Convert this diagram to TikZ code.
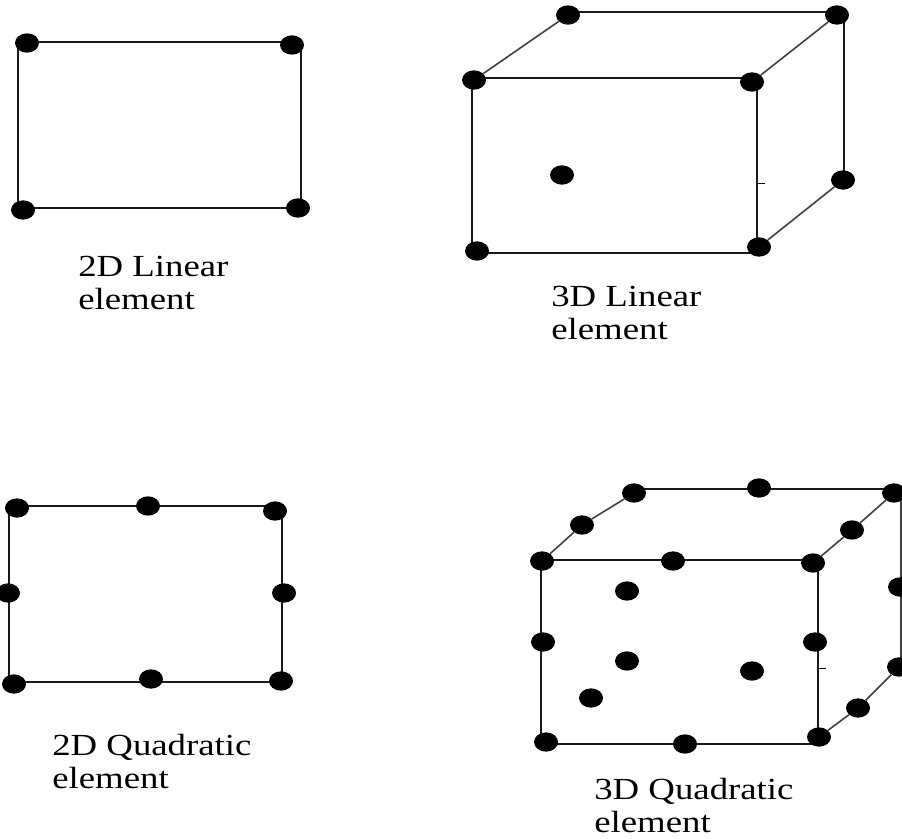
\documentclass[tikz,border=0pt]{standalone}
\usepackage{fontspec}
\setmainfont[FakeStretch=1.2]{Liberation Serif}
\usetikzlibrary{shapes.geometric}
\tikzset{
  nd/.style={ellipse,fill=black,inner sep=0pt,minimum width=18pt,minimum height=14.5pt},
  ln/.style={draw=black!90,line width=1.25pt},
  diag/.style={draw=black!75,line width=1.2pt},
  thinln/.style={draw=black,line width=0.7pt},
  lbl/.style={anchor=north west,align=left,font=\fontsize{23pt}{24.7pt}\selectfont,inner sep=0pt,text=black}
}
\begin{document}
\begin{tikzpicture}[x=0.75pt,y=-0.75pt]
\useasboundingbox (0,0) rectangle (902,838);
% 2D linear
\coordinate (a1) at (18,42); \coordinate (a2) at (301,42);
\coordinate (a3) at (301,208); \coordinate (a4) at (18,208);
\draw[ln] (a1) -- (a2) -- (a3) -- (a4) -- cycle;
\node[nd] (an1) at (27,43) {};
\node[nd] (an2) at (292,45) {};
\node[nd] (an3) at (298,208) {};
\node[nd] (an4) at (23,210) {};
\node[lbl] (at) at (78,256) {2D Linear\\element};
% 3D linear
\coordinate (b1) at (472,78); \coordinate (b2) at (757,78);
\coordinate (b3) at (757,253); \coordinate (b4) at (472,253);
\coordinate (b5) at (568,12); \coordinate (b6) at (844,12);
\coordinate (b7) at (844,180);
\draw[ln] (b1) -- (b2) -- (b3) -- (b4) -- cycle;
\draw[ln] (b5) -- (b6) -- (b7);
\coordinate (bt1) at (757,183); \coordinate (bt2) at (765,183);
\draw[thinln] (bt1) -- (bt2);
\node[nd] (bn1) at (474,80) {};
\node[nd] (bn2) at (752,82) {};
\node[nd] (bn3) at (759,247) {};
\node[nd] (bn4) at (477,251) {};
\node[nd] (bn5) at (568,15) {};
\node[nd] (bn6) at (837,15) {};
\node[nd] (bn7) at (843,180) {};
\node[nd] (bn8) at (562,175) {};
\draw[diag] (bn1) -- (bn5);
\draw[diag] (bn2) -- (bn6);
\draw[diag] (bn3) -- (bn7);
\node[lbl] (bt) at (551,286) {3D Linear\\element};
% 2D quadratic
\coordinate (c1) at (9,506); \coordinate (c2) at (282,506);
\coordinate (c3) at (282,682); \coordinate (c4) at (9,682);
\draw[ln] (c1) -- (c2) -- (c3) -- (c4) -- cycle;
\node[nd] (cn1) at (17,508) {};
\node[nd] (cn2) at (148,506) {};
\node[nd] (cn3) at (275,511) {};
\node[nd] (cn4) at (8,593) {};
\node[nd] (cn5) at (284,593) {};
\node[nd] (cn6) at (14,684) {};
\node[nd] (cn7) at (151,679) {};
\node[nd] (cn8) at (281,681) {};
\node[lbl] (ct) at (52,734) {2D Quadratic\\element};
% 3D quadratic
\coordinate (d1) at (541,560); \coordinate (d2) at (818,560);
\coordinate (d3) at (818,744); \coordinate (d4) at (541,744);
\coordinate (d5) at (632,489); \coordinate (d6) at (901,489);
\coordinate (d7) at (901,665);
\draw[ln] (d1) -- (d2) -- (d3) -- (d4) -- cycle;
\draw[ln] (d5) -- (d6);
\draw[diag] (d6) -- (d7);
\coordinate (dt1) at (818,668); \coordinate (dt2) at (826,668);
\draw[thinln] (dt1) -- (dt2);
\node[nd] (dn1) at (542,561) {};
\node[nd] (dn2) at (673,561) {};
\node[nd] (dn3) at (813,563) {};
\node[nd] (dn4) at (543,642) {};
\node[nd] (dn5) at (815,642) {};
\node[nd] (dn6) at (546,742) {};
\node[nd] (dn7) at (685,744) {};
\node[nd] (dn8) at (819,737) {};
\node[nd] (dn9) at (634,493) {};
\node[nd] (dn10) at (759,488) {};
\node[nd] (dn11) at (894,493) {};
\node[nd] (dn12) at (582,525) {};
\node[nd] (dn13) at (852,530) {};
\node[nd] (dn14) at (900,587) {};
\node[nd] (dn15) at (899,667) {};
\node[nd] (dn16) at (858,708) {};
\node[nd] (dn17) at (627,591) {};
\node[nd] (dn18) at (627,661) {};
\node[nd] (dn19) at (752,671) {};
\node[nd] (dn20) at (591,698) {};
\draw[diag] (dn1) -- (dn12) -- (dn9);
\draw[diag] (dn3) -- (dn13) -- (dn11);
\draw[diag] (dn8) -- (dn16) -- (dn15);
\node[lbl] (dt) at (594,778) {3D Quadratic\\element};
\end{tikzpicture}
\end{document}
